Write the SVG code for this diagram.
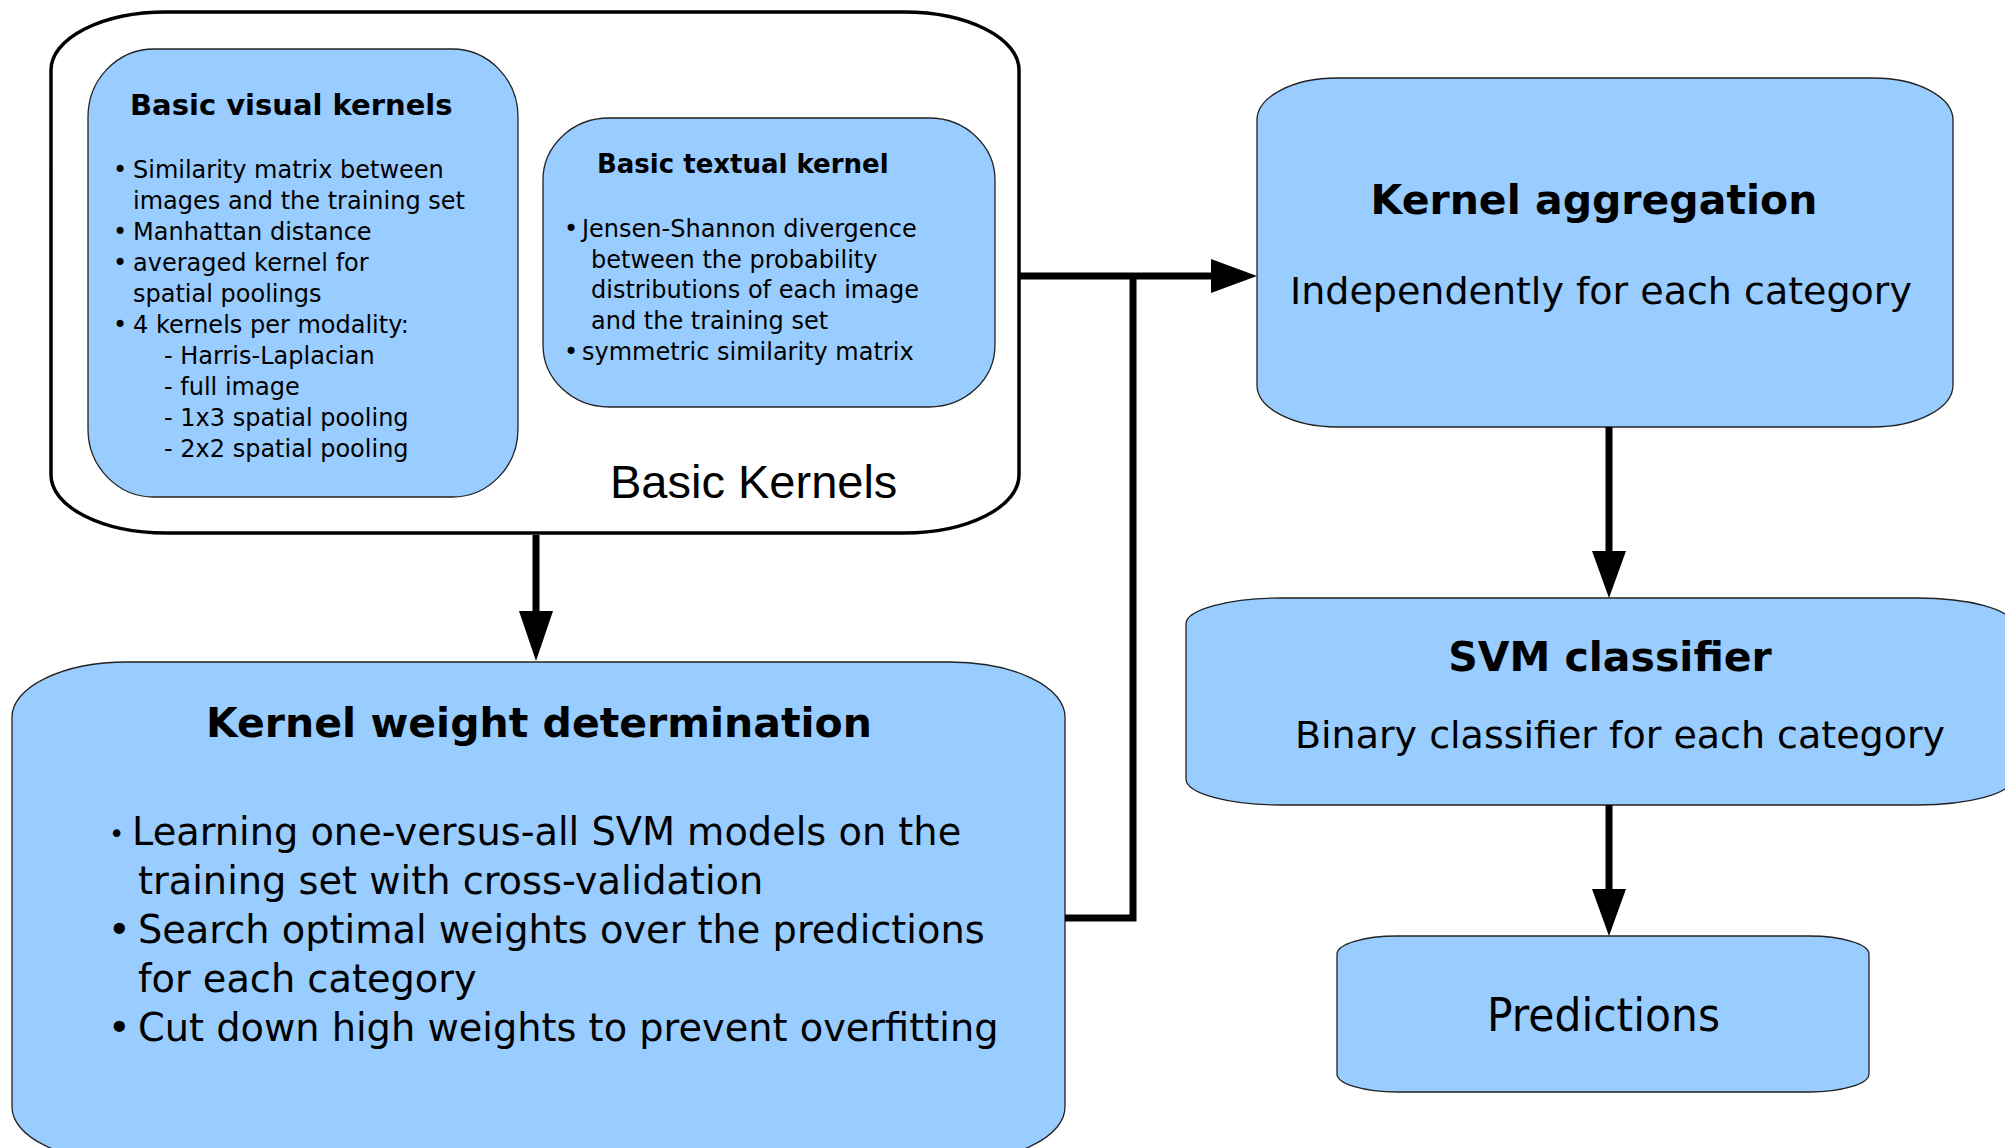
<svg xmlns="http://www.w3.org/2000/svg" width="2005" height="1148" viewBox="0 0 2005 1148">
<style>
.box{fill:#99ccff;stroke:#222;stroke-width:1.3}
.outer{fill:#fff;stroke:#000;stroke-width:3.5}
.t{font-family:"DejaVu Sans","Noto Sans",sans-serif;fill:#000}
.b{font-weight:bold}
.conn{fill:none;stroke:#000;stroke-width:7}
.head{fill:#000}
</style>
<rect width="2005" height="1148" fill="#fff"/>
<g id="basic-kernels">
<rect class="outer" x="51" y="12" width="968" height="521" rx="115" ry="58"/>
<text class="t" x="610" y="498" style="font-family:'Liberation Sans',Arial,sans-serif" font-size="47">Basic Kernels</text>
</g>
<g id="basic-visual-kernels">
<rect class="box" x="88" y="49" width="430" height="448" rx="66" ry="68"/>
<text class="t b" x="130" y="115" font-size="29">Basic visual kernels</text>
<g class="t" font-size="24">
<text x="113" y="178">•</text><text x="133" y="178">Similarity matrix between</text>
<text x="133" y="209">images and the training set</text>
<text x="113" y="240">•</text><text x="133" y="240">Manhattan distance</text>
<text x="113" y="271">•</text><text x="133" y="271">averaged kernel for</text>
<text x="133" y="302">spatial poolings</text>
<text x="113" y="333">•</text><text x="133" y="333">4 kernels per modality:</text>
<text x="164" y="364">- Harris-Laplacian</text>
<text x="164" y="395">- full image</text>
<text x="164" y="426">- 1x3 spatial pooling</text>
<text x="164" y="457">- 2x2 spatial pooling</text>
</g>
</g>
<g id="basic-textual-kernel">
<rect class="box" x="543" y="118" width="452" height="289" rx="66" ry="62"/>
<text class="t b" x="597" y="173" font-size="26">Basic textual kernel</text>
<g class="t" font-size="24">
<text x="564" y="237">•</text><text x="582" y="237">Jensen-Shannon divergence</text>
<text x="591" y="268">between the probability</text>
<text x="591" y="298">distributions of each image</text>
<text x="591" y="329">and the training set</text>
<text x="564" y="360">•</text><text x="582" y="360">symmetric similarity matrix</text>
</g>
</g>
<g id="kernel-aggregation">
<rect class="box" x="1257" y="78" width="696" height="349" rx="80" ry="42"/>
<text class="t b" x="1594" y="214" font-size="41" text-anchor="middle">Kernel aggregation</text>
<text class="t" x="1601" y="304" font-size="38" text-anchor="middle">Independently for each category</text>
</g>
<g id="svm-classifier">
<rect class="box" x="1186" y="598" width="826" height="207" rx="95" ry="26"/>
<text class="t b" x="1610" y="671" font-size="41" text-anchor="middle">SVM classifier</text>
<text class="t" x="1620" y="748" font-size="38" text-anchor="middle">Binary classifier for each category</text>
</g>
<g id="predictions">
<rect class="box" x="1337" y="936" width="532" height="156" rx="60" ry="18"/>
<text class="t" x="1487" y="1031" font-size="46" textLength="233" lengthAdjust="spacingAndGlyphs">Predictions</text>
</g>
<g id="kernel-weight-determination">
<rect class="box" x="12" y="662" width="1053" height="500" rx="115" ry="55"/>
<text class="t b" x="539" y="737" font-size="41" text-anchor="middle">Kernel weight determination</text>
<g class="t" font-size="38.3">
<text x="109" y="843" font-size="26">•</text><text x="132" y="845">Learning one-versus-all SVM models on the</text>
<text x="138" y="894">training set with cross-validation</text>
<text x="108" y="943">•</text><text x="138" y="943">Search optimal weights over the predictions</text>
<text x="138" y="992">for each category</text>
<text x="108" y="1041">•</text><text x="138" y="1041">Cut down high weights to prevent overfitting</text>
</g>
</g>
<g id="connectors">
<line class="conn" x1="536" y1="535" x2="536" y2="614"/>
<polygon class="head" points="519,611 553,611 536,661"/>
<line class="conn" x1="1019" y1="276" x2="1214" y2="276"/>
<polygon class="head" points="1211,259 1211,293 1257,276"/>
<polyline class="conn" points="1065,918 1133,918 1133,276"/>
<line class="conn" x1="1609" y1="427" x2="1609" y2="554"/>
<polygon class="head" points="1592,551 1626,551 1609,598"/>
<line class="conn" x1="1609" y1="805" x2="1609" y2="892"/>
<polygon class="head" points="1592,889 1626,889 1609,936"/>
</g>
</svg>
